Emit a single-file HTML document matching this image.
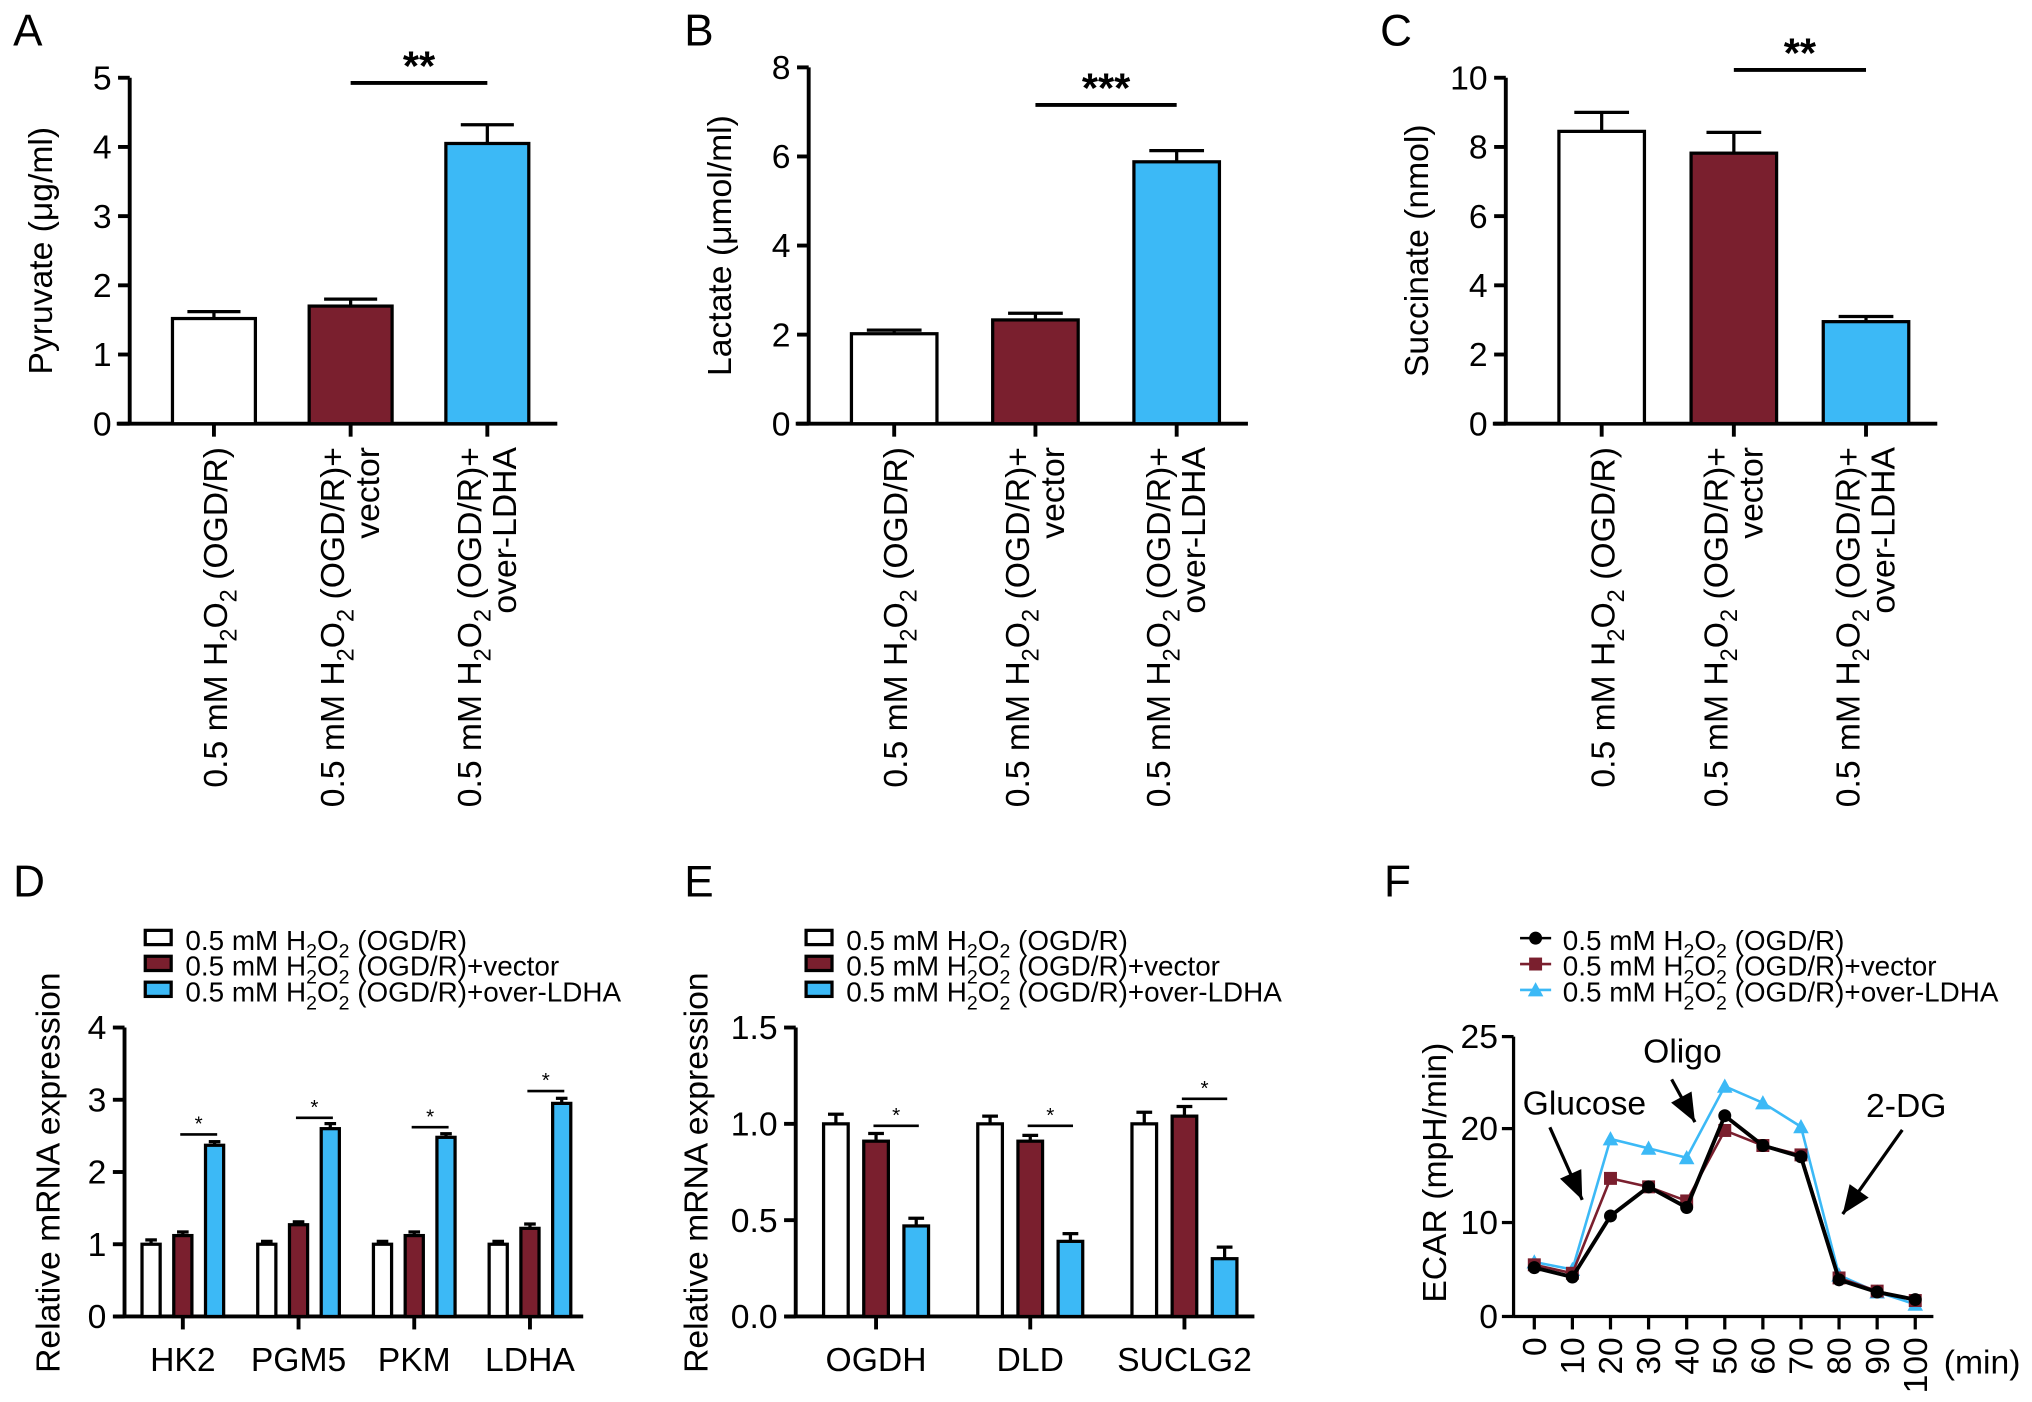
<!DOCTYPE html>
<html><head><meta charset="utf-8"><style>
html,body{margin:0;padding:0;background:#fff;}
svg{display:block;font-family:"Liberation Sans",Arial,sans-serif;}
</style></head><body>
<svg id="fig" width="2032" height="1402" viewBox="0 0 1568 1082" xmlns="http://www.w3.org/2000/svg">
<rect width="1568" height="1082" fill="#fff"/>
<g id="root"></g>
</svg>
<script>
// ---- Data ----
const pyruvateVals = [1.52, 1.70, 4.05];
const pyruvateErr = [0.10, 0.10, 0.27];
const pyruvateTicks = [0,1,2,3,4,5];
const lactateVals = [2.02, 2.33, 5.88];
const lactateErr = [0.08, 0.15, 0.25];
const lactateTicks = [0,2,4,6,8];
const succinateVals = [8.45, 7.82, 2.95];
const succinateErr = [0.55, 0.60, 0.15];
const succinateTicks = [0,2,4,6,8,10];
const dCats = ['HK2','PGM5','PKM','LDHA'];
const dWhite = [1.0, 1.0, 1.0, 1.0];
const dWhiteErr = [0.06, 0.04, 0.04, 0.04];
const dMaroon = [1.12, 1.27, 1.12, 1.22];
const dMaroonErr = [0.05, 0.04, 0.05, 0.06];
const dBlue = [2.37, 2.60, 2.48, 2.95];
const dBlueErr = [0.05, 0.07, 0.05, 0.07];
const dSig = [2.52, 2.75, 2.62, 3.12];
const dTicks = [0,1,2,3,4];
const eCats = ['OGDH','DLD','SUCLG2'];
const eWhite = [1.0, 1.0, 1.0];
const eWhiteErr = [0.05, 0.04, 0.06];
const eMaroon = [0.91, 0.91, 1.04];
const eMaroonErr = [0.04, 0.03, 0.05];
const eBlue = [0.47, 0.39, 0.30];
const eBlueErr = [0.04, 0.04, 0.06];
const eSig = [0.99, 0.99, 1.13];
const eTicks = ['0.0','0.5','1.0','1.5'];
const fTimes = [0,10,20,30,40,50,60,70,80,90,100];
const fBlack = [5.2,4.2,10.7,13.8,11.6,20.7,18.2,17.0,3.9,2.6,1.8];
const fMaroon = [5.5,4.6,14.7,13.8,12.3,19.8,18.2,17.2,4.1,2.7,1.7];
const fBlue = [5.8,5.0,18.9,17.9,16.9,22.3,21.4,20.1,4.4,2.6,1.3];
const fTicks = [0,10,20,25];
const MAROON = '#7a1f2e', BLUE = '#3cb9f6';
const NS = 'http://www.w3.org/2000/svg';
const root = document.getElementById('root');
const FS = 26;

function el(tag, attrs, parent){
  const e = document.createElementNS(NS, tag);
  for (const k in attrs) e.setAttribute(k, attrs[k]);
  (parent||root).appendChild(e);
  return e;
}
function txt(x,y,s,size,anchor,parent){
  const t = el('text',{x:x,y:y,'font-size':size,'text-anchor':anchor||'start',fill:'#000'},parent);
  t.textContent = s; return t;
}
function h2o2Text(x,y,size,prefix,suffix,anchor,transform,parent){
  const t = el('text',{x:x,y:y,'font-size':size,'text-anchor':anchor||'start',fill:'#000'},parent);
  if (transform) t.setAttribute('transform',transform);
  const sub = size*0.7, d = size*0.28;
  const add=(s,dy,fs)=>{const sp=document.createElementNS(NS,'tspan'); sp.textContent=s; if(dy) sp.setAttribute('dy',dy); if(fs) sp.setAttribute('font-size',fs); t.appendChild(sp);};
  add(prefix+'H');
  add('2',d,sub);
  add('O',-d);
  add('2',d,sub);
  add(' '+suffix,-d);
  return t;
}
function letter(x,y,s){
  const t = txt(x,y,s,34);
  
  
}
function yAxis(g, ax, y0, yTop, ticks, labels, xEnd, xStart){
  const l = el('line',{x1:ax,y1:y0,x2:ax,y2:yTop,stroke:'#000','stroke-width':3},g);
  
  
  const xl = el('line',{x1:xStart,y1:y0,x2:xEnd,y2:y0,stroke:'#000','stroke-width':3},g);
  
  
  const max = ticks[ticks.length-1];
  ticks.forEach((v,i)=>{
    const y = y0 - (v/max)*(y0-yTop);
    el('line',{x1:ax-9,y1:y,x2:ax,y2:y,stroke:'#000','stroke-width':3},g);
    const t = txt(ax-14,y+9,labels[i],FS,'end',g);
    
    
  });
}
function ylab(g,x,y,s){
  const t = el('text',{x:x,y:y,'font-size':FS,'text-anchor':'middle',transform:'rotate(-90 '+x+' '+y+')'},g);
  t.textContent = s;
  
  
}
function bar(g, cx, w, v, err, sc, y0, fill, name){
  const y = sc(v), ye = sc(v+err);
  el('line',{x1:cx,y1:y,x2:cx,y2:ye,stroke:'#000','stroke-width':2.5},g);
  el('line',{x1:cx-w*0.32,y1:ye,x2:cx+w*0.32,y2:ye,stroke:'#000','stroke-width':2.5},g);
  const r = el('rect',{x:cx-w/2,y:y,width:w,height:y0-y,fill:fill,stroke:'#000','stroke-width':2.5},g);
  
  
}

function topPanel(cfg){
  const g = el('g',{});
  
  
  const max = cfg.ticks[cfg.ticks.length-1];
  const sc = v => cfg.y0 - (v/max)*(cfg.y0-cfg.yTop);
  yAxis(g,cfg.ax,cfg.y0,cfg.yTop,cfg.ticks,cfg.ticks.map(String),cfg.first+cfg.step*2+cfg.w/2+22,cfg.ax-10);
  const fills=['#fff',MAROON,BLUE];
  const names=['bar-ogdr','bar-vector','bar-over-ldha'];
  cfg.vals.forEach((v,i)=>{
    const cx = cfg.first + i*cfg.step;
    bar(g,cx,cfg.w,v,cfg.err[i],sc,cfg.y0,fills[i],names[i]);
    el('line',{x1:cx,y1:cfg.y0,x2:cx,y2:cfg.y0+10,stroke:'#000','stroke-width':3},g);
  });
  const c1 = cfg.first+cfg.step, c2 = cfg.first+2*cfg.step;
  const sl = el('line',{x1:c1,y1:cfg.sigY,x2:c2,y2:cfg.sigY,stroke:'#000','stroke-width':3},g);
  
  
  const st = txt((c1+c2)/2,cfg.sigY-2,cfg.stars,32,'middle',g);
  st.setAttribute('font-weight','bold');
  
  
  ylab(g,cfg.ax-60,(cfg.y0+cfg.yTop)/2,cfg.ylabel);
  const ly = 345;
  const c0 = cfg.first;
  let t = h2o2Text(c0+10,ly,FS,'0.5 mM ','(OGD/R)','end','rotate(-90 '+(c0+10)+' '+ly+')',g);
   
  t = h2o2Text(c1-5,ly,FS,'0.5 mM ','(OGD/R)+','end','rotate(-90 '+(c1-5)+' '+ly+')',g);
   
  t = el('text',{x:c1+22,y:ly,'font-size':FS,'text-anchor':'end',transform:'rotate(-90 '+(c1+22)+' '+ly+')'},g);
  t.textContent='vector';
  t = h2o2Text(c2-5,ly,FS,'0.5 mM ','(OGD/R)+','end','rotate(-90 '+(c2-5)+' '+ly+')',g);
   
  t = el('text',{x:c2+22,y:ly,'font-size':FS,'text-anchor':'end',transform:'rotate(-90 '+(c2+22)+' '+ly+')'},g);
  t.textContent='over-LDHA';
}
topPanel({name:'panel-a-pyruvate',ax:100,y0:327,yTop:60,ticks:pyruvateTicks,first:165,step:105.5,w:64,vals:pyruvateVals,err:pyruvateErr,sigY:64,stars:'**',ylabel:'Pyruvate (μg/ml)'});
topPanel({name:'panel-b-lactate',ax:624,y0:327,yTop:52,ticks:lactateTicks,first:690,step:109,w:66,vals:lactateVals,err:lactateErr,sigY:81,stars:'***',ylabel:'Lactate (μmol/ml)'});
topPanel({name:'panel-c-succinate',ax:1162,y0:327,yTop:60,ticks:succinateTicks,first:1236,step:102,w:66,vals:succinateVals,err:succinateErr,sigY:54,stars:'**',ylabel:'Succinate (nmol)'});
letter(10,35,'A'); letter(528,35,'B'); letter(1065,35,'C');
letter(10,692,'D'); letter(528,692,'E'); letter(1068,692,'F');

function legend(x, type){
  const g = el('g',{});
  
  
  const suf=['(OGD/R)','(OGD/R)+vector','(OGD/R)+over-LDHA'];
  const cols=['#fff',MAROON,BLUE];
  const ys=[733,753,773];
  for(let i=0;i<3;i++){
    const y=ys[i];
    if(type==='bar'){
      el('rect',{x:x,y:y-15,width:20,height:11,fill:cols[i],stroke:'#000','stroke-width':2.5},g);
    } else {
      const lc = i===0?'#000':cols[i];
      el('line',{x1:x-2,y1:y-9,x2:x+22,y2:y-9,stroke:lc,'stroke-width':2},g);
      marker(g,x+10,y-9,i);
    }
    const t=h2o2Text(x+31,y,21.5,'0.5 mM ',suf[i],'start',null,g);
    
    
  }
}
function marker(g,x,y,i){
  if(i===0) el('circle',{cx:x,cy:y,r:5,fill:'#000'},g);
  else if(i===1) el('rect',{x:x-5,y:y-5,width:10,height:10,fill:MAROON},g);
  else el('polygon',{points:(x)+','+(y-6)+' '+(x-6)+','+(y+5)+' '+(x+6)+','+(y+5),fill:BLUE},g);
}
legend(112,'bar'); legend(622,'bar'); legend(1175,'line');

function grouped(cfg){
  const g = el('g',{});
  
  
  const max = parseFloat(cfg.tickLabels[cfg.tickLabels.length-1]);
  const sc = v => cfg.y0 - (v/max)*(cfg.y0-cfg.yTop);
  yAxis(g,cfg.ax,cfg.y0,cfg.yTop,cfg.tickLabels.map(parseFloat),cfg.tickLabels,cfg.xEnd,cfg.ax-8);
  cfg.cats.forEach((c,i)=>{
    const cx = cfg.first + i*cfg.step;
    bar(g,cx-cfg.off,cfg.w,cfg.white[i],cfg.whiteErr[i],sc,cfg.y0,'#fff','bar-'+c.toLowerCase()+'-ogdr');
    bar(g,cx,cfg.w,cfg.maroon[i],cfg.maroonErr[i],sc,cfg.y0,MAROON,'bar-'+c.toLowerCase()+'-vector');
    bar(g,cx+cfg.off,cfg.w,cfg.blue[i],cfg.blueErr[i],sc,cfg.y0,BLUE,'bar-'+c.toLowerCase()+'-over-ldha');
    el('line',{x1:cx,y1:cfg.y0,x2:cx,y2:cfg.y0+10,stroke:'#000','stroke-width':3},g);
    const t = txt(cx,cfg.y0+42,c,FS,'middle',g);
    
    
    const sy = sc(cfg.sig[i]);
    el('line',{x1:cx-2,y1:sy,x2:cx+cfg.off+2,y2:sy,stroke:'#000','stroke-width':2},g);
    txt(cx+cfg.off/2,sy-3,'*',16,'middle',g);
  });
  ylab(g,cfg.ylabX,905,'Relative mRNA expression');
}
grouped({name:'panel-d-glycolysis-genes',ax:96,y0:1016,yTop:793,tickLabels:dTicks.map(String),cats:dCats,first:141,step:89.3,off:24.5,w:14,ylabX:46,
  white:dWhite,whiteErr:dWhiteErr,maroon:dMaroon,maroonErr:dMaroonErr,blue:dBlue,blueErr:dBlueErr,sig:dSig,xEnd:450});
grouped({name:'panel-e-tca-genes',ax:614,y0:1016,yTop:793,tickLabels:eTicks,cats:eCats,first:676,step:119,off:31,w:19,ylabX:546,
  white:eWhite,whiteErr:eWhiteErr,maroon:eMaroon,maroonErr:eMaroonErr,blue:eBlue,blueErr:eBlueErr,sig:eSig,xEnd:968});

(function(){
  const g = el('g',{});
  
  
  const ax=1168, y0=1016, y20=871, y25=800, x0=1184, x100=1478;
  const sx = t => x0 + (t/100)*(x100-x0);
  const sy = v => v<=20 ? y0 - (v/20)*(y0-y20) : y20 - ((v-20)/5)*(y20-y25);
  const yl = el('line',{x1:ax,y1:y0,x2:ax,y2:y25,stroke:'#000','stroke-width':2.5},g);
   
  const xl = el('line',{x1:ax,y1:y0,x2:1492,y2:y0,stroke:'#000','stroke-width':2.5},g);
   
  fTicks.forEach(v=>{
    const y=sy(v);
    el('line',{x1:ax-9,y1:y,x2:ax,y2:y,stroke:'#000','stroke-width':2.5},g);
    const t=txt(ax-12,y+9,String(v),FS,'end',g);
     
  });
  fTimes.forEach(tm=>{
    const x=sx(tm);
    el('line',{x1:x,y1:y0,x2:x,y2:y0+10,stroke:'#000','stroke-width':2.5},g);
    const tx=x+9, ty=y0+16;
    const t=el('text',{x:tx,y:ty,'font-size':FS,'text-anchor':'end',transform:'rotate(-90 '+tx+' '+ty+')'},g);
    t.textContent=String(tm);
     
  });
  const mt=txt(1500,1060,'(min)',FS,'start',g);
   
  ylab(g,1116,905,'ECAR (mpH/min)');
  const series=[[fBlue,BLUE,2,'series-over-ldha'],[fMaroon,MAROON,2,'series-vector'],[fBlack,'#000',3,'series-ogdr']];
  const idx={}; idx[BLUE]=2; idx[MAROON]=1; idx['#000']=0;
  series.forEach(s=>{
    const pts=s[0].map((v,i)=>sx(fTimes[i])+','+sy(v)).join(' ');
    const pl=el('polyline',{points:pts,fill:'none',stroke:s[1],'stroke-width':s[2]},g);
     
    s[0].forEach((v,i)=>marker(g,sx(fTimes[i]),sy(v),idx[s[1]]));
  });
  function arrow(x1,y1,x2,y2){
    el('line',{x1:x1,y1:y1,x2:x2,y2:y2,stroke:'#000','stroke-width':2.5},g);
    const a=Math.atan2(y2-y1,x2-x1), L=22, W=9;
    const bx=x2-L*Math.cos(a), by=y2-L*Math.sin(a);
    const p=[x2+','+y2,(bx+W*Math.sin(a))+','+(by-W*Math.cos(a)),(bx-W*Math.sin(a))+','+(by+W*Math.cos(a))].join(' ');
    el('polygon',{points:p,fill:'#000'},g);
  }
  let t=txt(1175,860,'Glucose',26,'start',g);  
  arrow(1196,870,1221,926);
  t=txt(1268,820,'Oligo',26,'start',g);  
  arrow(1290,833,1308,866);
  t=txt(1440,862,'2-DG',26,'start',g);  
  arrow(1468,872,1422,937);
})();
</script>
</body></html>
